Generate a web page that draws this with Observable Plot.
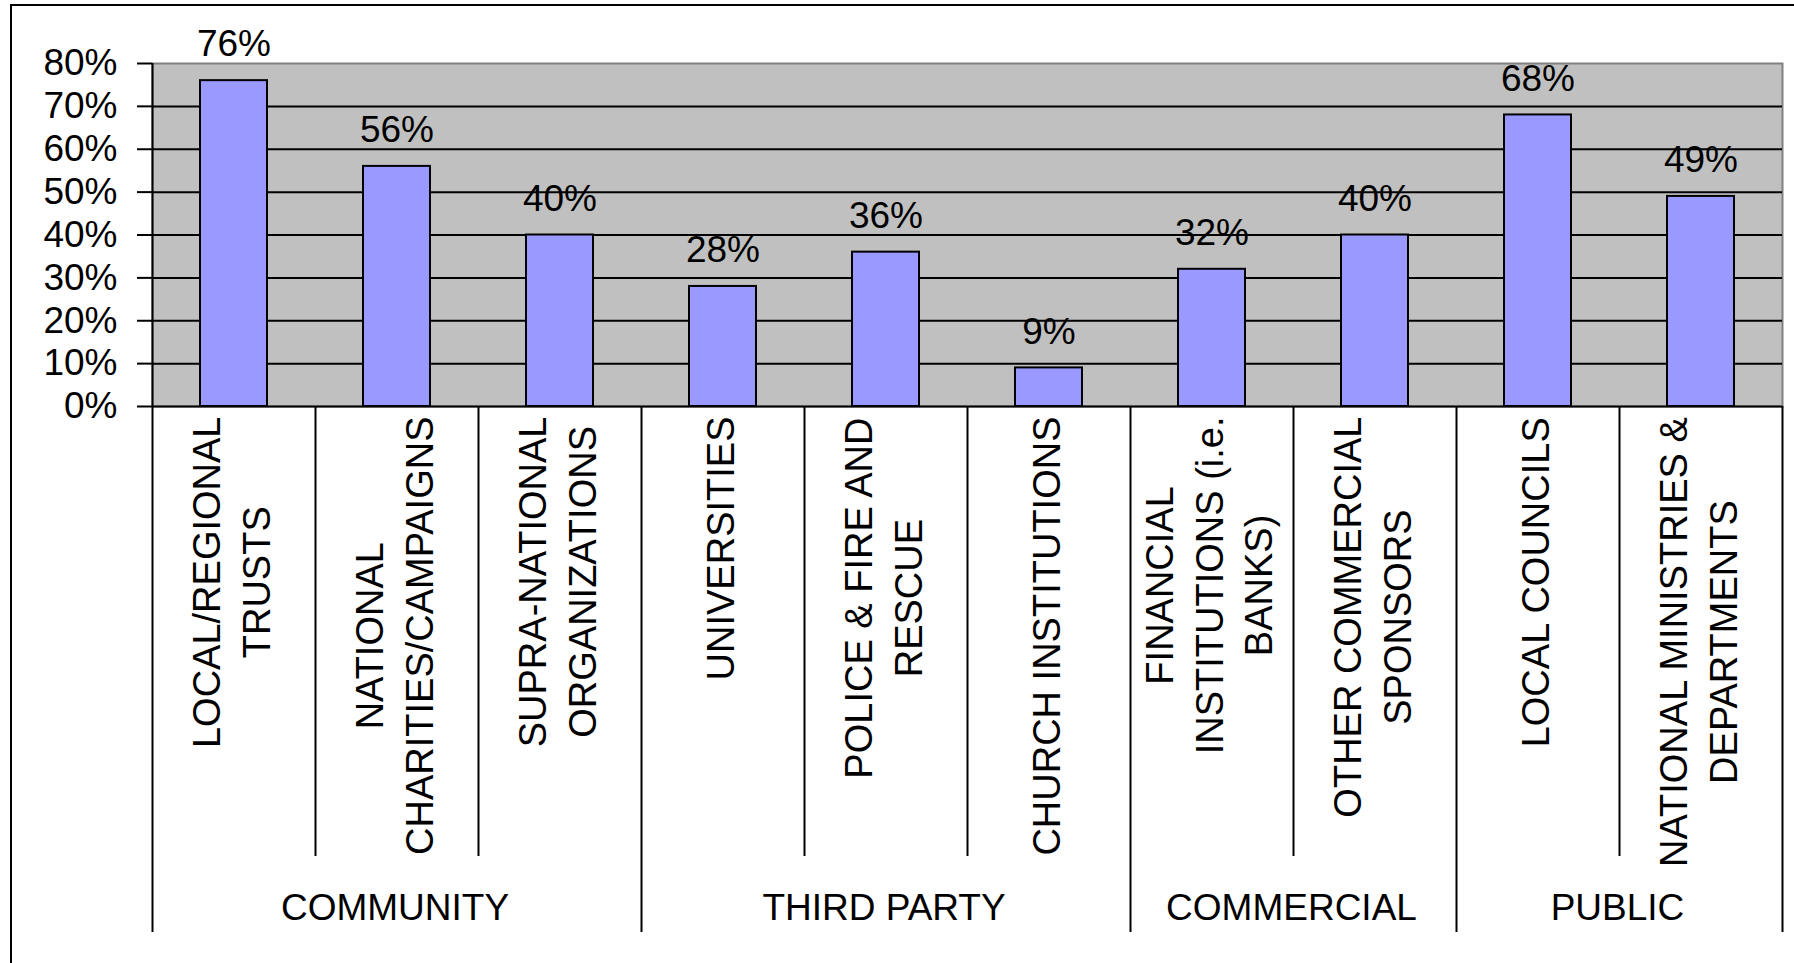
<!DOCTYPE html>
<html>
<head>
<meta charset="utf-8">
<script src="https://cdn.jsdelivr.net/npm/d3@7"></script>
<script src="https://cdn.jsdelivr.net/npm/@observablehq/plot@0.6"></script>
<style>
  html, body { margin: 0; padding: 0; background: #fff; overflow: hidden; }
  #wrap { position: relative; width: 1794px; height: 963px; overflow: hidden; }
  #border { position: absolute; left: 10px; top: 4px; width: 1800px; height: 1000px;
            border-left: 2px solid #000; border-top: 2px solid #000; }
  #chart { position: absolute; left: 0; top: 0; }
</style>
</head>
<body>
<div id="wrap"><div id="border"></div><div id="chart"></div></div>
<script>
// ---- data ----
const categories = [
  "LOCAL/REGIONAL\nTRUSTS",
  "NATIONAL\nCHARITIES/CAMPAIGNS",
  "SUPRA-NATIONAL\nORGANIZATIONS",
  "UNIVERSITIES",
  "POLICE & FIRE AND\nRESCUE",
  "CHURCH INSTITUTIONS",
  "FINANCIAL\nINSTITUTIONS (i.e.\nBANKS)",
  "OTHER COMMERCIAL\nSPONSORS",
  "LOCAL COUNCILS",
  "NATIONAL MINISTRIES &\nDEPARTMENTS"
];
const values = [76, 56, 40, 28, 36, 9, 32, 40, 68, 49];
const groups = ["COMMUNITY", "COMMUNITY", "COMMUNITY",
                "THIRD PARTY", "THIRD PARTY", "THIRD PARTY",
                "COMMERCIAL", "COMMERCIAL",
                "PUBLIC", "PUBLIC"];
const yTicks = [0, 10, 20, 30, 40, 50, 60, 70, 80];

// ---- layout ----
const W = 1794, H = 963;
const mL = 152, mR = 12, mT = 63, mB = 557;
const step = (W - mL - mR) / categories.length;
const FONT = "Liberation Sans, Arial, Helvetica, sans-serif";
const LABEL_SIZE = 38;

const data = categories.map((c, i) => ({cat: c, value: values[i], group: groups[i], i}));
const subSeps = data.filter((d, i) => i > 0 && groups[i] === groups[i - 1]);
const groupStarts = data.filter((d, i) => i === 0 || groups[i] !== groups[i - 1]);
const last = data[data.length - 1];
const groupNames = Array.from(new Set(groups));

// text measurement for centering rotated multi-line labels
const ctx = document.createElement("canvas").getContext("2d");
ctx.font = `${LABEL_SIZE}px "Liberation Sans", Arial, sans-serif`;
const maxW = (s) => Math.max(...s.split("\n").map(l => ctx.measureText(l).width));

const labelMarks = data.map(d => Plot.text([d], {
  x: "cat", text: "cat", frameAnchor: "bottom",
  dx: -5, dy: 10 + maxW(d.cat) / 2, rotate: -90,
  textAnchor: "middle", lineAnchor: "middle", lineHeight: 1.3,
  fontSize: LABEL_SIZE, fill: "#000"
}));

const groupMarks = groupNames.map(g => {
  const members = data.filter(d => d.group === g);
  return Plot.text([members[0]], {
    x: "cat", text: () => g, frameAnchor: "bottom",
    dx: (members.length - 1) * step / 2 - 2, dy: 502,
    textAnchor: "middle", lineAnchor: "middle",
    fontSize: 37, fill: "#000"
  });
});

const chart = Plot.plot({
  width: W, height: H,
  marginLeft: mL, marginRight: mR, marginTop: mT, marginBottom: mB,
  style: {fontFamily: FONT, fontSize: "37px", color: "#000", background: "transparent", overflow: "visible"},
  x: {domain: categories, paddingInner: 0.59, paddingOuter: 0.295, axis: null},
  y: {domain: [0, 80], axis: null},
  marks: [
    Plot.frame({fill: "#C0C0C0", stroke: "#808080", strokeWidth: 2}),
    Plot.ruleY(yTicks.filter(t => t > 0 && t < 80), {stroke: "#000", strokeWidth: 2}),
    Plot.barY(data, {x: "cat", y: "value", fill: "#9999FF", stroke: "#000", strokeWidth: 2}),
    Plot.ruleY([0], {stroke: "#000", strokeWidth: 2}),
    Plot.ruleX([data[0]], {x: "cat", dx: -step / 2, stroke: "#000", strokeWidth: 2}),
    Plot.ruleX(subSeps, {x: "cat", dx: -step / 2, y1: 0, y2: 0, insetBottom: -450, stroke: "#000", strokeWidth: 2}),
    Plot.ruleX(groupStarts, {x: "cat", dx: -step / 2, y1: 0, y2: 0, insetBottom: -526, stroke: "#000", strokeWidth: 2}),
    Plot.ruleX([last], {x: "cat", dx: step / 2, y1: 0, y2: 0, insetBottom: -526, stroke: "#000", strokeWidth: 2}),
    Plot.axisY({ticks: yTicks, tickFormat: d => d + "%", tickSize: 15, tickPadding: 20,
                stroke: "#000", strokeWidth: 2, fill: "#000", fontSize: 37, label: null}),
    Plot.text(data, {x: "cat", y: "value", text: d => d.value + "%", dy: -36,
                     fontSize: 37, fill: "#000"}),
    ...labelMarks,
    ...groupMarks
  ]
});
document.getElementById("chart").appendChild(chart);
</script>
</body>
</html>
